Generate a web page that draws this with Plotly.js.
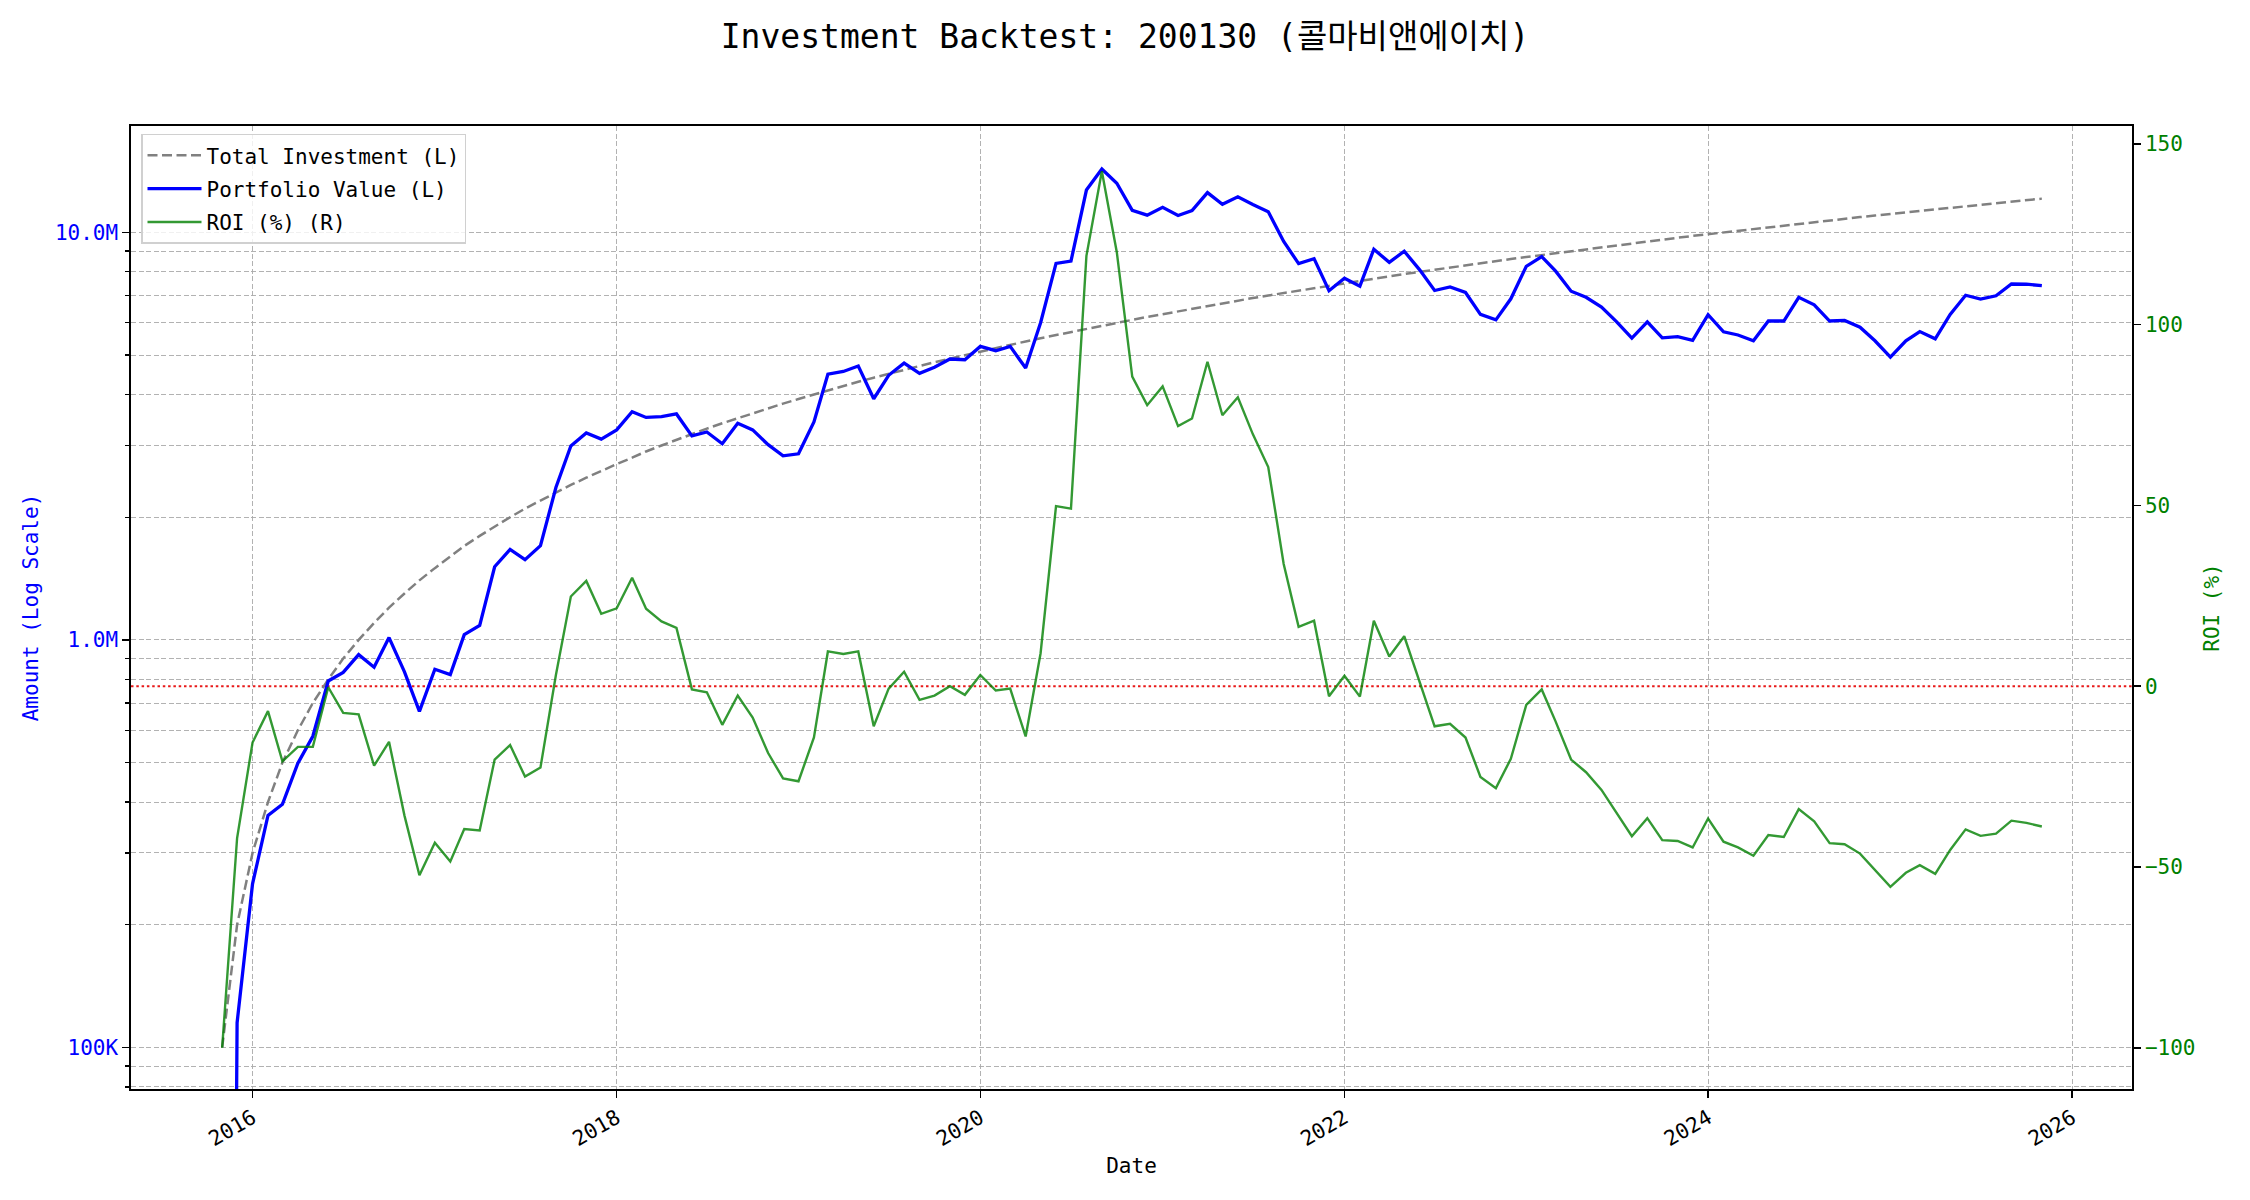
<!DOCTYPE html>
<html>
<head>
<meta charset="utf-8">
<script src="https://cdn.plot.ly/plotly-3.0.1.min.js"></script>
<style>html,body{margin:0;padding:0;background:#fff;}#chart{width:2250px;height:1200px;}</style>
</head>
<body>
<div id="chart"></div>
<script>
// ---- data (monthly, Nov 2015 .. Nov 2025) ----
const startMonth = '2015-11';
const nMonths = 121;

const totalInvestment = [
  100000, 200000, 300000, 400000, 500000, 600000, 700000, 800000, 900000, 1000000,
  1100000, 1200000, 1300000, 1400000, 1500000, 1600000, 1700000, 1800000, 1900000, 2000000,
  2100000, 2200000, 2300000, 2400000, 2500000, 2600000, 2700000, 2800000, 2900000, 3000000,
  3100000, 3200000, 3300000, 3400000, 3500000, 3600000, 3700000, 3800000, 3900000, 4000000,
  4100000, 4200000, 4300000, 4400000, 4500000, 4600000, 4700000, 4800000, 4900000, 5000000,
  5100000, 5200000, 5300000, 5400000, 5500000, 5600000, 5700000, 5800000, 5900000, 6000000,
  6100000, 6200000, 6300000, 6400000, 6500000, 6600000, 6700000, 6800000, 6900000, 7000000,
  7100000, 7200000, 7300000, 7400000, 7500000, 7600000, 7700000, 7800000, 7900000, 8000000,
  8100000, 8200000, 8300000, 8400000, 8500000, 8600000, 8700000, 8800000, 8900000, 9000000,
  9100000, 9200000, 9300000, 9400000, 9500000, 9600000, 9700000, 9800000, 9900000, 10000000,
  10100000, 10200000, 10300000, 10400000, 10500000, 10600000, 10700000, 10800000, 10900000, 11000000,
  11100000, 11200000, 11300000, 11400000, 11500000, 11600000, 11700000, 11800000, 11900000, 12000000,
  12100000
];

const portfolioValue = [
  1, 115000, 252000, 371000, 395000, 498000, 580000, 793000, 832000, 920000,
  857000, 1013000, 835000, 668000, 847000, 822000, 1030000, 1085000, 1512000, 1668000,
  1573000, 1703000, 2366000, 2993000, 3220000, 3110000, 3275000, 3630000, 3515000, 3530000,
  3585000, 3166000, 3237000, 3030000, 3400000, 3275000, 3013000, 2830000, 2862000, 3426000,
  4487000, 4557000, 4700000, 3906000, 4460000, 4777000, 4510000, 4667000, 4890000, 4870000,
  5250000, 5124000, 5250000, 4645000, 6000000, 8390000, 8500000, 12700000, 14300000, 13200000,
  11320000, 11020000, 11520000, 11000000, 11310000, 12520000, 11720000, 12230000, 11710000, 11240000,
  9500000, 8380000, 8620000, 7190000, 7720000, 7380000, 9090000, 8440000, 8990000, 8090000,
  7200000, 7350000, 7120000, 6290000, 6100000, 6870000, 8250000, 8720000, 8030000, 7170000,
  6930000, 6560000, 6040000, 5500000, 6030000, 5510000, 5550000, 5430000, 6280000, 5700000,
  5600000, 5420000, 6060000, 6060000, 6930000, 6640000, 6060000, 6080000, 5850000, 5420000,
  4940000, 5420000, 5710000, 5480000, 6290000, 7010000, 6860000, 6990000, 7470000, 7460000,
  7400000
];

const roiPct = [
  -100, -42, -15.6, -6.9, -20.8, -16.8, -16.8, -0.3, -7.4, -7.8,
  -22.0, -15.4, -35.8, -52.3, -43.3, -48.5, -39.5, -39.9, -20.3, -16.3,
  -25.0, -22.5, 3.1, 24.8, 29.1, 20.0, 21.5, 30.0, 21.4, 17.9,
  16.1, -0.9, -1.7, -10.7, -2.6, -8.7, -18.5, -25.5, -26.3, -14.2,
  9.6, 8.9, 9.6, -11.1, -0.7, 4.0, -3.8, -2.6, 0.0, -2.4,
  3.1, -1.2, -0.7, -13.9, 9.1, 49.8, 49.1, 119.0, 142.4, 120.0,
  85.6, 77.7, 82.9, 71.9, 74.0, 89.7, 74.9, 79.9, 69.7, 60.6,
  33.8, 16.4, 18.1, -2.8, 2.9, -2.9, 18.1, 8.2, 13.8, 1.1,
  -11.1, -10.4, -14.2, -25.1, -28.2, -20.1, -5.2, -0.9, -9.8, -20.3,
  -23.8, -28.7, -35.1, -41.5, -36.5, -42.6, -42.8, -44.6, -36.6, -43.0,
  -44.6, -46.9, -41.2, -41.7, -34.0, -37.4, -43.4, -43.7, -46.3, -50.7,
  -55.5, -51.6, -49.5, -51.9, -45.3, -39.6, -41.4, -40.8, -37.2, -37.8,
  -38.8
];

const leftTickVals = [100000, 1000000, 10000000];
const leftTickText = ['100K', '1.0M', '10.0M'];
const rightTickVals = [-100, -50, 0, 50, 100, 150];
const yearTicks = ['2016', '2018', '2020', '2022', '2024', '2026'];

// ---- build dates ----
const dates = [];
{
  let y = parseInt(startMonth.slice(0, 4)), m = parseInt(startMonth.slice(5, 7));
  for (let i = 0; i < nMonths; i++) {
    dates.push(y + '-' + String(m).padStart(2, '0') + '-01');
    m++; if (m > 12) { m = 1; y++; }
  }
}

// minor log ticks (2..9 per decade)
const minorVals = [];
for (let d = 10000; d <= 10000000; d *= 10) {
  for (let k = 2; k <= 9; k++) minorVals.push(k * d);
}

const FONT = '"DejaVu Sans Mono", "Noto Sans CJK KR", monospace';
const gridCol = 'rgba(170,170,170,0.9)';
const gridDash = '5px,2.5px';

const traces = [
  {
    x: dates, y: totalInvestment, type: 'scatter', mode: 'lines',
    name: 'Total Investment (L)', legendgroup: 'a',
    line: {color: '#808080', width: 2.5, dash: '10px,4.5px'},
    yaxis: 'y'
  },
  {
    x: dates, y: portfolioValue, type: 'scatter', mode: 'lines',
    name: 'Portfolio Value (L)', legendgroup: 'b',
    line: {color: '#0000ff', width: 3.3},
    yaxis: 'y'
  },
  {
    x: dates, y: roiPct, type: 'scatter', mode: 'lines',
    name: 'ROI (%) (R)', legendgroup: 'c',
    line: {color: 'rgba(0,128,0,0.8)', width: 2.4},
    yaxis: 'y2'
  }
];

const layout = {
  width: 2250, height: 1200,
  paper_bgcolor: '#ffffff', plot_bgcolor: '#ffffff',
  font: {family: FONT, size: 21, color: '#000'},
  margin: {l: 131, r: 118, t: 126, b: 111, pad: 0},
  title: {
    text: 'Investment Backtest: 200130 (콜마비앤에이치)',
    font: {family: FONT, size: 33, color: '#000'},
    x: 0.5, xanchor: 'center', y: 0.97, yanchor: 'middle'
  },
  showlegend: true,
  legend: {
    x: 0.005, y: 0.992, xanchor: 'left', yanchor: 'top',
    bgcolor: 'rgba(255,255,255,0.8)', bordercolor: '#d0d0d0', borderwidth: 1.5,
    font: {family: FONT, size: 21, color: '#000'},
    traceorder: 'grouped', tracegroupgap: 3,
    itemwidth: 54
  },
  xaxis: {
    type: 'date',
    range: ['2015-05-02', '2026-05-01'],
    tickmode: 'array', tickvals: yearTicks.map(y => y + '-01-01'), ticktext: yearTicks,
    tickangle: -30,
    ticks: 'outside', ticklen: 7, tickwidth: 1.6, tickcolor: '#000',
    showline: true, linecolor: '#000', linewidth: 1.7, mirror: true,
    showgrid: true, gridcolor: gridCol, griddash: gridDash, gridwidth: 1,
    zeroline: false,
    tickfont: {family: FONT, size: 21, color: '#000'},
    title: {text: 'Date', font: {family: FONT, size: 21, color: '#000'}, standoff: 8}
  },
  yaxis: {
    type: 'log',
    range: [4.898, 7.261],
    tickmode: 'array', tickvals: leftTickVals, ticktext: leftTickText,
    ticks: 'outside', ticklen: 7, tickwidth: 1.6, tickcolor: '#000',
    showline: true, linecolor: '#000', linewidth: 1.7,
    showgrid: true, gridcolor: gridCol, griddash: gridDash, gridwidth: 1,
    minor: {
      tickmode: 'array', tickvals: minorVals,
      ticks: 'outside', ticklen: 4, tickwidth: 1.2, tickcolor: '#000',
      showgrid: true, gridcolor: gridCol, griddash: gridDash, gridwidth: 1
    },
    zeroline: false,
    tickfont: {family: FONT, size: 21, color: '#0000ff'},
    title: {text: 'Amount (Log Scale)', font: {family: FONT, size: 21, color: '#0000ff'}, standoff: 10}
  },
  yaxis2: {
    overlaying: 'y', side: 'right',
    range: [-111.4, 154.9],
    tickmode: 'array', tickvals: rightTickVals,
    ticks: 'outside', ticklen: 7, tickwidth: 1.6, tickcolor: '#000',
    showline: true, linecolor: '#000', linewidth: 1.7,
    showgrid: false, zeroline: false,
    tickfont: {family: FONT, size: 21, color: '#008000'},
    title: {text: 'ROI (%)', font: {family: FONT, size: 21, color: '#008000'}, standoff: 10}
  },
  shapes: [
    {type: 'line', xref: 'paper', x0: 0, x1: 1, yref: 'y2', y0: 0, y1: 0,
     line: {color: 'rgba(230,0,0,0.9)', width: 2, dash: '2.5px,2.8px'}, layer: 'below'}
  ]
};

Plotly.newPlot('chart', traces, layout, {staticPlot: true, displayModeBar: false});
</script>
</body>
</html>
